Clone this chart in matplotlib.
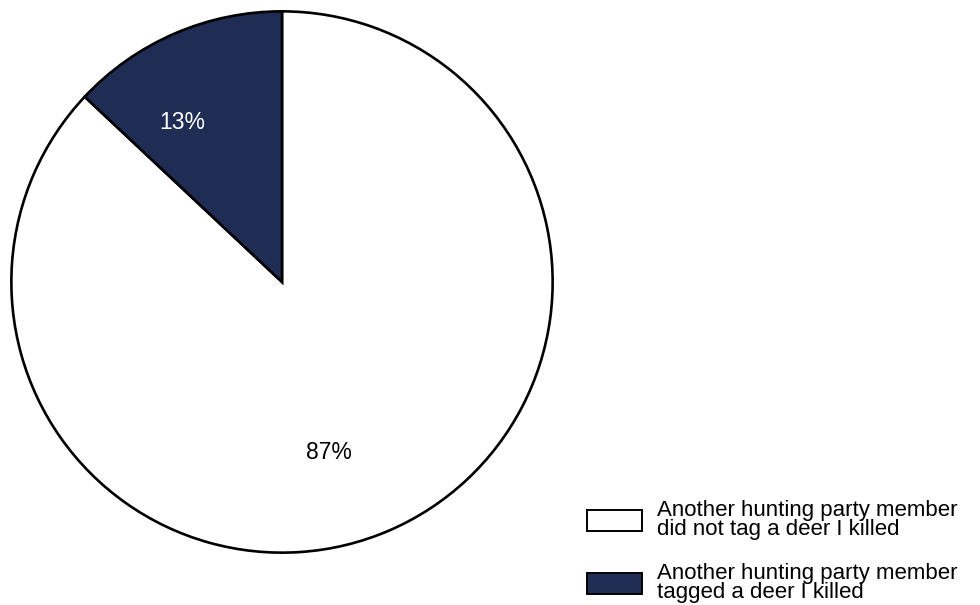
import matplotlib
matplotlib.use("Agg")
import matplotlib.pyplot as plt

plt.rcParams['font.family'] = ['Liberation Sans', 'DejaVu Sans']

labels = ["Another hunting party member\ndid not tag a deer I killed",
          "Another hunting party member\ntagged a deer I killed"]
values = [87, 13]
colors = ["#ffffff", "#1f2d54"]
text_colors = ["#000000", "#ffffff"]
label_pos = [(0.173, -0.629), (-0.368, 0.588)]

W, H = 980, 605
fig = plt.figure(figsize=(W / 100, H / 100), dpi=100)
ax = fig.add_axes([10 / W, (H - 554) / H, 544 / W, 544 / H])

wedges, texts, autotexts = ax.pie(
    values, colors=colors, startangle=90, counterclock=False,
    autopct=lambda p: f"{p:.0f}%", pctdistance=0.67,
    wedgeprops=dict(edgecolor="black", linewidth=1.9),
    textprops=dict(fontsize=16.5))
for t, c, p in zip(autotexts, text_colors, label_pos):
    t.set_color(c)
    t.set_position(p)
ax.set_xlim(-1.005, 1.005)
ax.set_ylim(-1.005, 1.005)
ax.set_aspect("equal")
ax.axis("off")

leg = fig.legend(wedges, labels, loc="upper left",
                 bbox_to_anchor=(587 / W, 1 - 500 / H),
                 frameon=False, fontsize=16, handlelength=2.48, handleheight=1.05,
                 handletextpad=0.68, labelspacing=1.0, borderpad=0, borderaxespad=0)
for t in leg.get_texts():
    t.set_linespacing(0.9)
for h in leg.legend_handles:
    h.set_linewidth(1.4)

fig.savefig("out.png", dpi=100, facecolor="white")
